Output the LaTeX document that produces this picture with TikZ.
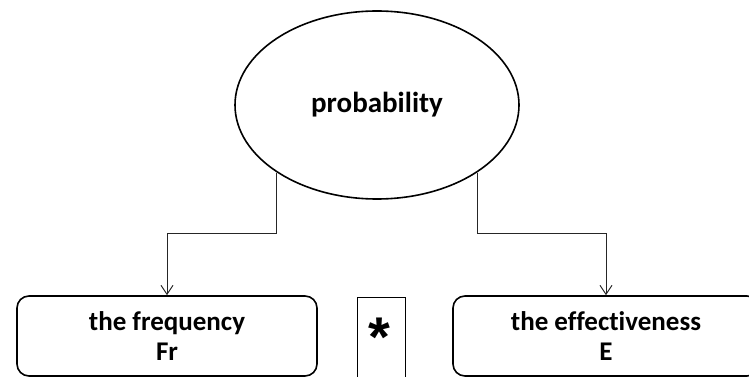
\documentclass[tikz,border=0pt]{standalone}
\usepackage{fontspec}
\setmainfont[Ligatures=NoCommon]{Carlito}
\newfontfamily\starfont{Liberation Sans}
\usetikzlibrary{shapes.geometric,arrows.meta}
\begin{document}
\begin{tikzpicture}[
    x=1pt, y=-1pt,
    event/.style={ellipse, draw=black, fill=white, line width=1.6pt,
        minimum width=284pt, minimum height=188pt, inner sep=0pt,
        font=\fontsize{29}{32}\selectfont\bfseries},
    factor/.style={rectangle, rounded corners=12pt, draw=black, fill=white,
        minimum width=300pt, minimum height=80pt, align=center, inner sep=0pt,
        line width=1.6pt, font=\fontsize{27}{30}\selectfont\bfseries},
    operator/.style={rectangle, draw=black, fill=white,
        minimum width=48pt, minimum height=80pt, inner sep=0pt,
        line width=1pt, font=\fontsize{56}{56}\starfont\bfseries},
    link/.style={line width=1pt, draw=black!85,
        -{Straight Barb[length=9pt,width=12pt,line width=1pt]}},
]
\clip (0,0) rectangle (749,377);
  % probability = frequency * effectiveness
  \node[event] (p_prob) at (377, 105) {probability};
  \node[factor] (p_freq) at (167, 336) {the frequency\\Fr};
  \node[operator] (p_times) at (381, 337) {\raisebox{0pt}{*}\kern4pt};
  \node[factor, minimum width=306pt] (p_eff) at (606, 336) {the effectiveness\\E};
  \draw[link] (p_prob.-146) -- ++(0, 61) -| (p_freq.north);
  \draw[link] (p_prob.-34) -- ++(0, 61) -| (p_eff.north);
\end{tikzpicture}
\end{document}
